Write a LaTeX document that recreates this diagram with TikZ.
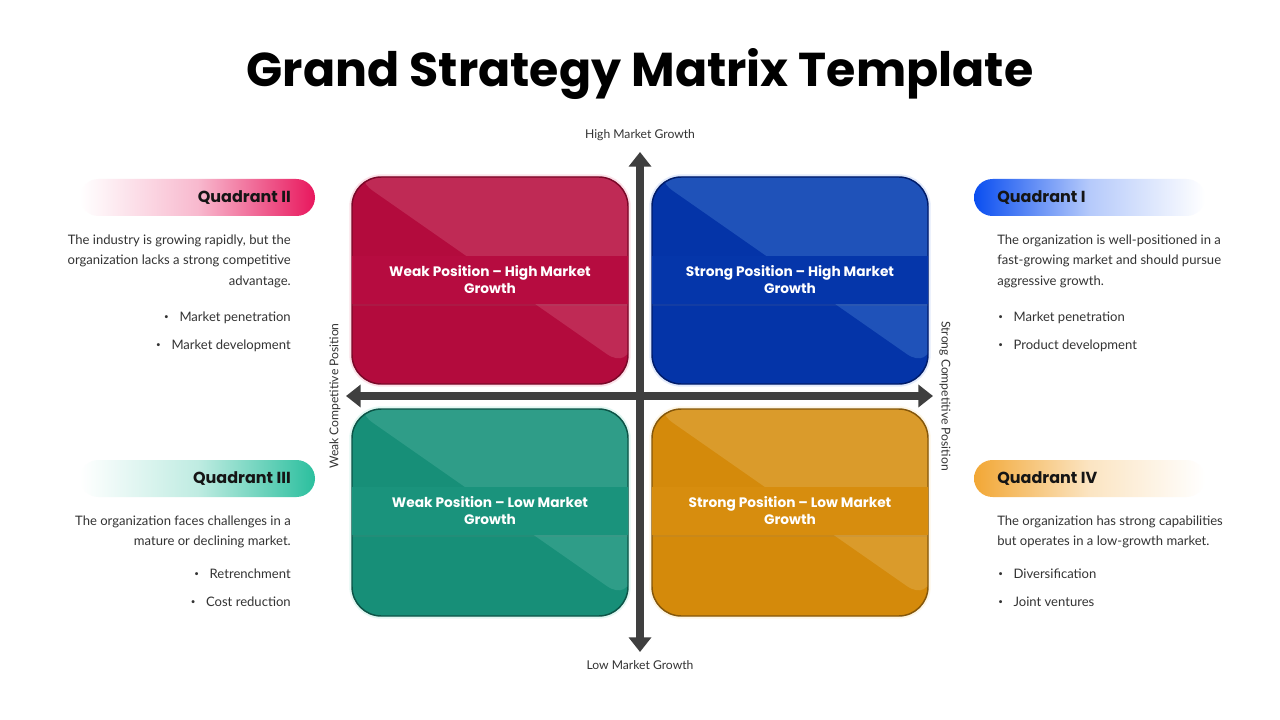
\documentclass[tikz,border=0pt]{standalone}
\usepackage{fontspec}
\setmainfont{Lato}
\newfontfamily\headfont{Poppins}
\usetikzlibrary{arrows.meta,shadows}
\definecolor{redD}{HTML}{B30B3D}\definecolor{redL}{HTML}{BF2A55}\definecolor{redB}{HTML}{7A0828}\definecolor{redG}{HTML}{F07A9A}\definecolor{redBand}{HTML}{B60C40}
\definecolor{bluD}{HTML}{0434A8}\definecolor{bluL}{HTML}{1F52B9}\definecolor{bluB}{HTML}{001C6A}\definecolor{bluG}{HTML}{7FA0F0}\definecolor{bluBand}{HTML}{0536AA}
\definecolor{grnD}{HTML}{178F78}\definecolor{grnL}{HTML}{2F9D88}\definecolor{grnB}{HTML}{0C5447}\definecolor{grnG}{HTML}{7FDCC8}\definecolor{grnBand}{HTML}{1A937C}
\definecolor{orgD}{HTML}{D48A0B}\definecolor{orgL}{HTML}{DA9B2B}\definecolor{orgB}{HTML}{85570A}\definecolor{orgG}{HTML}{F8D890}\definecolor{orgBand}{HTML}{D78D0E}
\definecolor{pillR}{HTML}{E8175D}\definecolor{pillB}{HTML}{0A4EF0}\definecolor{pillG}{HTML}{2BBF9E}\definecolor{pillO}{HTML}{F2A735}
\definecolor{axisgray}{HTML}{3F3F3F}\definecolor{txt}{HTML}{333333}\definecolor{head}{HTML}{151515}
\newcommand\bul{\raisebox{0.12em}{\fontsize{6pt}{6pt}\selectfont\textbullet}}
\begin{document}
\begin{tikzpicture}[x=0.75pt,y=-0.75pt,
  qbox/.style n args={4}{draw=#3, line width=1.1pt, fill=#1, rounded corners=22pt,
     minimum width=207pt, minimum height=155.25pt, inner sep=0pt,
     preaction={draw=#4, line width=4pt, opacity=0.22},
     path picture={\fill[#2] ([xshift=-2pt,yshift=2pt]path picture bounding box.north west) -- ([xshift=2pt,yshift=2pt]path picture bounding box.north east) -- ([xshift=2pt,yshift=10pt]path picture bounding box.south east) -- cycle;}},
  band/.style={fill=#1, minimum width=207pt, minimum height=36pt, inner sep=0pt, align=center,
     text=white, font=\headfont\bfseries\fontsize{10.3pt}{12.75pt}\selectfont,
     drop shadow={opacity=0.12, shadow xshift=0pt, shadow yshift=-1.5pt}},
  axis/.style={line width=6pt, draw=axisgray, {Triangle[width=16.5pt,length=11pt]}-{Triangle[width=16.5pt,length=11pt]}},
  axlabel/.style={font=\fontsize{9.1pt}{10pt}\selectfont, text=txt, inner sep=0pt},
  body/.style={font=\fontsize{9.8pt}{15.4pt}\selectfont, text=txt, inner sep=0pt},
  qhead/.style={font=\headfont\bfseries\fontsize{12pt}{14pt}\selectfont, text=head, inner sep=0pt},
]
\useasboundingbox[fill=white] (0,0) rectangle (1280,720);

% title
\node[font=\headfont\bfseries\fontsize{35.6pt}{42pt}\selectfont, text=black] (title) at (640,74) {Grand Strategy Matrix Template};

% quadrant boxes
\node[qbox={redD}{redL}{redB}{redG}] (q2) at (490,280.5) {};
\node[qbox={bluD}{bluL}{bluB}{bluG}] (q1) at (790,280.5) {};
\node[qbox={grnD}{grnL}{grnB}{grnG}] (q3) at (490,512.5) {};
\node[qbox={orgD}{orgL}{orgB}{orgG}] (q4) at (790,512.5) {};

\node[band=redBand] (b2) at (490,280) {Weak Position – High Market\\Growth};
\node[band=bluBand] (b1) at (790,280) {Strong Position – High Market\\Growth};
\node[band=grnBand] (b3) at (490,511) {Weak Position – Low Market\\Growth};
\node[band=orgBand] (b4) at (790,511) {Strong Position – Low Market\\Growth};

% axes
\coordinate (ytop) at (640,152);
\coordinate (ybot) at (640,652);
\coordinate (xleft) at (346,396);
\coordinate (xright) at (933,396);
\draw[axis] (ybot) -- (ytop);
\draw[axis] (xleft) -- (xright);

\node[axlabel] (hi) at (640,135) {High Market Growth};
\node[axlabel] (lo) at (640,665) {Low Market Growth};
\node[axlabel, rotate=90] (weak) at (335,396) {Weak Competitive Position};
\node[axlabel, rotate=-90] (strong) at (945,396) {Strong Competitive Position};

% header pills
\shade[left color=white, right color=pillR, middle color=pillR!30!white, rounded corners=13.9pt] (80,179) rectangle (315,216);
\shade[left color=pillB, right color=white, middle color=pillB!30!white, rounded corners=13.9pt] (974,179) rectangle (1205,216);
\shade[left color=white, right color=pillG, middle color=pillG!30!white, rounded corners=13.9pt] (80,460) rectangle (315,497);
\shade[left color=pillO, right color=white, middle color=pillO!30!white, rounded corners=13.9pt] (974,460) rectangle (1205,497);

\node[qhead, anchor=east] (h2) at (291,197.5) {Quadrant II};
\node[qhead, anchor=west] (h1) at (997,197.5) {Quadrant I};
\node[qhead, anchor=east] (h3) at (291,478.5) {Quadrant III};
\node[qhead, anchor=west] (h4) at (997,478.5) {Quadrant IV};

% Quadrant II text
\node[body, anchor=base east] (t2a) at (291,244) {The industry is growing rapidly, but the};
\node[body, anchor=base east] (t2b) at (291,264.5) {organization lacks a strong competitive};
\node[body, anchor=base east] (t2c) at (291,285) {advantage.};
\node[body, anchor=base east] (t2d) at (291,321) {\bul\hspace{8pt}Market penetration};
\node[body, anchor=base east] (t2e) at (291,349) {\bul\hspace{8pt}Market development};

% Quadrant I text
\node[body, anchor=base west] (t1a) at (997,244) {The organization is well-positioned in a};
\node[body, anchor=base west] (t1b) at (997,264.5) {fast-growing market and should pursue};
\node[body, anchor=base west] (t1c) at (997,285) {aggressive growth.};
\node[body, anchor=base west] (t1d) at (998,321) {\bul\hspace{8pt}Market penetration};
\node[body, anchor=base west] (t1e) at (998,349) {\bul\hspace{8pt}Product development};

% Quadrant III text
\node[body, anchor=base east] (t3a) at (291,525) {The organization faces challenges in a};
\node[body, anchor=base east] (t3b) at (291,545.5) {mature or declining market.};
\node[body, anchor=base east] (t3d) at (291,578) {\bul\hspace{8pt}Retrenchment};
\node[body, anchor=base east] (t3e) at (291,606) {\bul\hspace{8pt}Cost reduction};

% Quadrant IV text
\node[body, anchor=base west] (t4a) at (997,525) {The organization has strong capabilities};
\node[body, anchor=base west] (t4b) at (997,545.5) {but operates in a low-growth market.};
\node[body, anchor=base west] (t4d) at (998,578) {\bul\hspace{8pt}Diversification};
\node[body, anchor=base west] (t4e) at (998,606) {\bul\hspace{8pt}Joint ventures};
\end{tikzpicture}
\end{document}
